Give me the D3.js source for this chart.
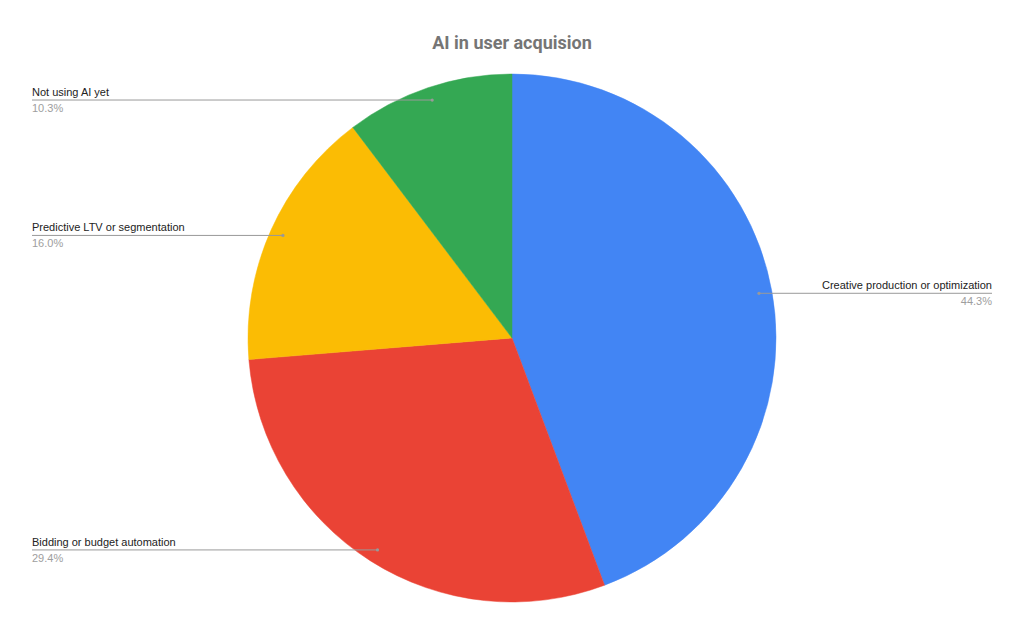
<!DOCTYPE html>
<html>
<head>
<meta charset="utf-8">
<script src="https://cdn.jsdelivr.net/npm/d3@7"></script>
<style>
  body { margin: 0; background: #fff; }
  .label { font-family: Arial, "Liberation Sans", sans-serif; font-size: 11px; fill: #222; }
  .pct { font-family: Arial, "Liberation Sans", sans-serif; font-size: 11px; fill: #9e9e9e; }
  .title { font-family: Roboto, Arial, sans-serif; font-size: 18px; font-weight: bold; fill: #757575; }
</style>
</head>
<body>
<script>
var categories = ['Creative production or optimization', 'Bidding or budget automation',
  'Predictive LTV or segmentation', 'Not using AI yet'];
var values = [44.3, 29.4, 16.0, 10.3];
var colors = ['#4285f4', '#ea4335', '#fbbc04', '#34a853'];

var width = 1024;
var height = 634;
var cx = 512;
var cy = 338;
var radius = 264;

var svg = d3.select('body').append('svg')
  .attr('width', width)
  .attr('height', height);

svg.append('text')
  .attr('class', 'title')
  .attr('x', width / 2)
  .attr('y', 49)
  .attr('text-anchor', 'middle')
  .text('AI in user acquision');

var slices = categories.map(function(c, i) {
  return {name: c, value: values[i], color: colors[i]};
});

var pie = d3.pie()
  .sort(null)
  .value(function(d) { return d.value; });

var arc = d3.arc().innerRadius(0).outerRadius(radius);
var dotArc = d3.arc().innerRadius(251).outerRadius(251);

var g = svg.append('g').attr('transform', 'translate(' + cx + ',' + cy + ')');

var arcs = pie(slices);

g.selectAll('.slice')
  .data(arcs)
  .enter().append('path')
    .attr('class', 'slice')
    .attr('d', arc)
    .attr('fill', function(d) { return d.data.color; })
    .attr('stroke', function(d) { return d.data.color; })
    .attr('stroke-width', 0.5);

// leader lines run from a dot inside the slice to the page edge
var leftX = 32;
var rightX = 992;

arcs.forEach(function(d) {
  var p = dotArc.centroid(d);
  var x = cx + p[0];
  var y = cy + p[1];
  var right = p[0] > 0;
  var endX = right ? rightX : leftX;

  svg.append('line')
    .attr('x1', x).attr('y1', y)
    .attr('x2', endX).attr('y2', y)
    .attr('stroke', '#999')
    .attr('stroke-width', 1);

  svg.append('circle')
    .attr('cx', x).attr('cy', y)
    .attr('r', 1.6)
    .attr('fill', '#999');

  svg.append('text')
    .attr('class', 'label')
    .attr('x', endX)
    .attr('y', y - 4)
    .attr('text-anchor', right ? 'end' : 'start')
    .text(d.data.name);

  svg.append('text')
    .attr('class', 'pct')
    .attr('x', endX)
    .attr('y', y + 12)
    .attr('text-anchor', right ? 'end' : 'start')
    .text(d.data.value.toFixed(1) + '%');
});
</script>
</body>
</html>
